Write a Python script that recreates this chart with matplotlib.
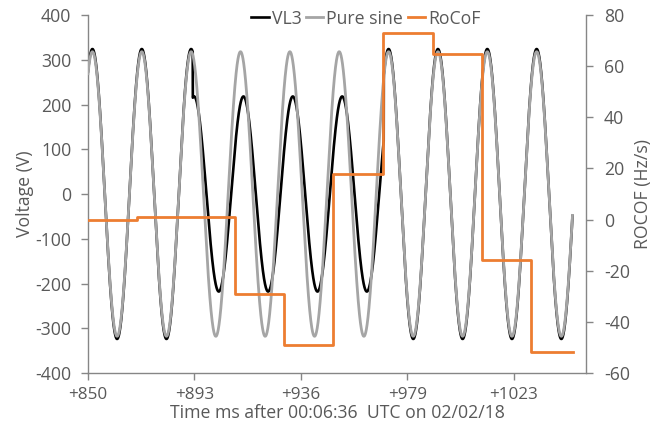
import numpy as np
import matplotlib
matplotlib.use("Agg")
import matplotlib.pyplot as plt

# ---- data ----
t_start_ms = 850.0
t_end_ms = 1047.1
pure_amp_v = 318.0
vl3_amp_v = 324.0
freq_hz = 49.8
first_peak_ms = 851.8
sag_start_ms = 892.6
sag_end_ms = 970.3
sag_amp_v = 218.0
sag_lag_ms = 1.2

rocof_edges_ms = [850.0, 869.8, 889.7, 909.8, 929.8, 949.8, 970.2, 990.4, 1010.3, 1030.3, 1047.3]
rocof_values = [0.0, 1.1, 0.9, -29.2, -49.2, 17.8, 72.9, 64.6, -15.9, -51.9]

xtick_pos_ms = [850.0, 893.3, 936.6, 979.9, 1023.2]
xtick_labels = ["+850", "+893", "+936", "+979", "+1023"]
v_ticks = [-400, -300, -200, -100, 0, 100, 200, 300, 400]
r_ticks = [-60, -40, -20, 0, 20, 40, 60, 80]

# ---- build curves ----
t = np.arange(t_start_ms, t_end_ms + 1e-9, 0.05)
w = 2 * np.pi * freq_hz / 1000.0
pure = pure_amp_v * np.cos(w * (t - first_peak_ms))
vl3 = vl3_amp_v * np.cos(w * (t - first_peak_ms))
in_sag = (t >= sag_start_ms) & (t < sag_end_ms)
vl3[in_sag] = sag_amp_v * np.cos(w * (t[in_sag] - first_peak_ms - sag_lag_ms))

rx = np.repeat(rocof_edges_ms, 2)[1:-1]
ry = np.repeat(rocof_values, 2)

# ---- plot ----
plt.rcParams['font.family'] = ['Open Sans', 'DejaVu Sans']
plt.rcParams['axes.unicode_minus'] = False
txt = '#595959'
spine_c = '#868686'

fig = plt.figure(figsize=(6.57, 4.24), dpi=100)
ax = fig.add_axes([88/657, 1-373/424, (586-88)/657, (373-15)/424])
ax2 = ax.twinx()

l1, = ax.plot(t, vl3, color='black', lw=1.9, label='VL3', zorder=2)
l2, = ax.plot(t, pure, color='#A5A5A5', lw=2.0, label='Pure sine', zorder=3)
l3, = ax2.plot(rx, ry, color='#ED7D31', lw=2.0, label='RoCoF')

ax.set_xlim(850, 1052.6)
ax.set_ylim(-400, 400)
ax2.set_ylim(-60, 80)
ax.set_yticks(v_ticks)
ax2.set_yticks(r_ticks)
ax.set_xticks(xtick_pos_ms)
ax.set_xticklabels(xtick_labels)

fs = 12.7
for a in (ax, ax2):
    a.tick_params(colors=txt, labelsize=fs, length=5, width=1, color=spine_c)
    for s in a.spines.values():
        s.set_color(spine_c)
        s.set_linewidth(1)
    a.spines['top'].set_visible(False)
ax.spines['right'].set_visible(False)
ax2.spines['left'].set_visible(False)
ax2.spines['bottom'].set_visible(False)
ax.tick_params(axis='x', pad=5, labelsize=12.3)
ax.tick_params(axis='y', pad=7)
ax2.tick_params(axis='y', pad=8)

ax.set_ylabel('Voltage (V)', color=txt, fontsize=fs, labelpad=1)
ax2.set_ylabel('ROCOF (Hz/s)', color=txt, fontsize=fs, rotation=90, labelpad=3)
ax.set_xlabel('Time ms after 00:06:36  UTC on 02/02/18', color=txt, fontsize=fs, labelpad=0.5)

leg = fig.legend([l1, l2, l3], ['VL3', 'Pure sine', 'RoCoF'], loc='center left',
                 bbox_to_anchor=(251/657, 1-18.5/424), bbox_transform=fig.transFigure,
                 ncol=3, frameon=False, fontsize=fs, borderpad=0, borderaxespad=0,
                 handlelength=1.0, handletextpad=0.17, columnspacing=0.25,
                 labelcolor=txt)
leg.set_zorder(10)

fig.savefig('out.png', dpi=100)
